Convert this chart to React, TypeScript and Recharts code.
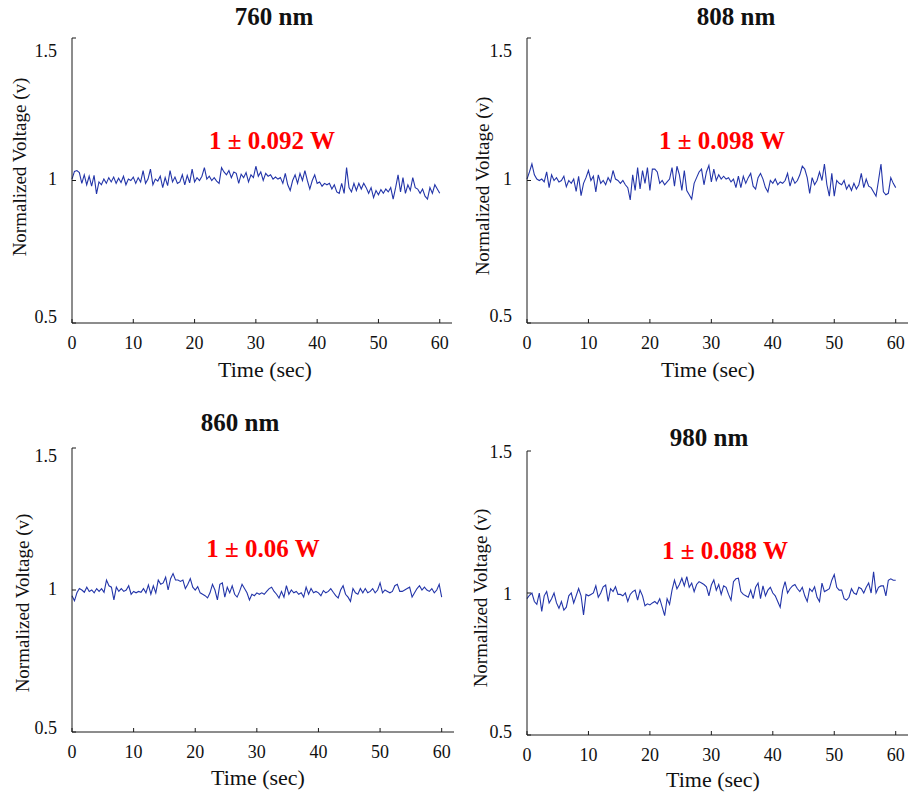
import { LineChart, Line, XAxis, YAxis } from 'recharts'

// sampling interval of the recorder, seconds
const SAMPLE_STEP = 0.4

const xTicks = [0, 10, 20, 30, 40, 50, 60]
const yTicks = [0.5, 1, 1.5]
const titles = ['760 nm', '808 nm', '860 nm', '980 nm']
const powerNotes = ['1 ± 0.092 W', '1 ± 0.098 W', '1 ± 0.06 W', '1 ± 0.088 W']

// normalized voltage (one value every 0.4 s)
const v760 = [
  1.005, 1.032, 1.035, 1.028, 0.99, 1.02, 0.985, 1.015, 0.98, 1.018,
  0.953, 0.995, 0.985, 1.005, 0.99, 1.01, 0.995, 1.012, 0.99, 1.008,
  0.993, 1.015, 0.985, 1.005, 1.0, 1.012, 0.99, 1.01, 0.995, 1.035,
  0.99, 1.005, 1.04, 0.985, 1.005, 0.998, 1.015, 0.975, 1.01, 0.982,
  1.035, 0.995, 1.012, 0.99, 0.995, 1.02, 0.985, 1.018, 0.992, 1.04,
  0.995, 1.01, 1.0, 1.015, 1.045, 1.005, 1.015, 1.0, 1.01, 0.998,
  0.99, 1.045, 1.03, 1.02, 1.035, 1.01, 1.03, 1.025, 0.99, 1.022,
  1.01, 1.028, 0.995, 1.02, 1.01, 1.05, 1.015, 1.03, 1.0, 1.025,
  1.015, 1.02, 1.005, 1.012, 1.005, 1.01, 0.99, 1.025, 0.985, 0.965,
  1.0, 1.02, 0.99, 1.025, 1.0, 1.035, 1.0, 0.97, 1.0, 1.02,
  0.99, 0.995, 0.98, 0.99, 0.985, 0.99, 0.97, 0.985, 0.96, 0.955,
  0.99, 0.955, 1.045, 0.975, 0.96, 0.99, 0.965, 0.99, 0.97, 0.99,
  0.975, 0.955, 0.975, 0.94, 0.965, 0.95, 0.968, 0.955, 0.97, 0.96,
  0.975, 0.935, 0.975, 1.02, 0.96, 1.01, 0.955, 0.985, 0.965, 1.01,
  0.975, 0.97, 0.955, 0.97, 0.945, 0.935, 0.975, 0.955, 0.985, 0.97, 0.955,
]

const v808 = [
  1.005, 1.03, 1.058, 1.02, 1.005, 1.0, 1.005, 0.995, 1.03, 0.975,
  1.02, 1.0, 1.01, 0.995, 1.0, 1.015, 0.978, 1.0, 0.99, 1.005,
  0.962, 1.015, 0.947, 0.99, 1.01, 1.035, 1.0, 1.015, 0.96, 1.02,
  0.99, 1.0, 0.985, 1.01, 0.995, 1.035, 1.005, 1.0, 0.99, 1.0,
  0.985, 0.975, 0.932, 1.02, 0.965, 1.045, 0.97, 1.035, 0.99, 1.045,
  0.965, 1.04, 1.04, 1.03, 0.99, 1.0, 0.985, 0.995, 1.005, 1.045,
  0.98, 1.05, 1.02, 0.965, 1.035, 0.965, 0.95, 0.935, 0.99, 1.01,
  1.03, 1.04, 0.985, 1.03, 1.053, 0.995, 1.04, 1.0, 1.02, 1.005,
  1.015, 1.005, 1.01, 0.995, 1.005, 0.975, 1.015, 0.975, 1.015, 0.99,
  1.01, 1.025, 0.98, 0.97, 1.01, 1.025, 1.005, 0.975, 0.96, 1.0,
  0.99, 1.005, 0.985, 0.995, 0.99, 1.0, 1.025, 0.98, 1.01, 0.99,
  1.0, 1.02, 1.05, 1.04, 1.01, 0.955, 1.01, 0.985, 1.0, 1.03,
  1.0, 1.058, 0.985, 0.945, 1.025, 0.945, 1.0, 0.99, 0.985, 1.0,
  0.97, 0.985, 0.965, 0.99, 0.97, 0.985, 1.025, 0.975, 1.005, 0.98,
  0.975, 0.96, 0.945, 1.0, 1.058, 0.96, 0.95, 0.955, 1.01, 0.99, 0.975,
]

const v860 = [
  0.98, 0.962, 0.99, 1.005, 1.0, 0.992, 1.01, 0.995, 1.0, 0.99,
  1.005, 0.995, 1.005, 0.992, 1.035, 1.015, 1.01, 0.965, 1.01, 0.995,
  1.005, 0.995, 1.0, 1.015, 0.985, 0.995, 0.99, 0.995, 0.992, 1.005,
  0.99, 1.018, 0.985, 1.015, 0.99, 1.035, 1.02, 1.025, 1.045, 1.0,
  1.04, 1.058, 1.035, 1.035, 1.03, 1.035, 1.005, 1.02, 1.04, 1.01,
  1.0, 1.012, 0.99, 0.985, 0.98, 0.972, 0.99, 1.02, 1.0, 0.965,
  1.02, 1.025, 0.975, 1.01, 0.99, 1.015, 0.985, 0.975, 0.995, 1.02,
  1.005, 0.99, 0.965, 0.985, 0.98, 0.99, 0.985, 0.99, 0.985, 0.995,
  1.005, 1.01, 0.995, 0.985, 0.972, 0.995, 0.975, 1.015, 0.985, 1.0,
  0.99, 0.995, 0.985, 0.99, 0.975, 1.01, 0.985, 1.005, 0.99, 0.995,
  0.99, 0.98, 0.998, 0.99, 0.995, 1.005, 0.992, 0.98, 0.972, 1.0,
  1.015, 0.985, 0.975, 0.96, 1.005, 0.99, 0.985, 1.005, 0.99, 1.005,
  0.99, 0.995, 1.005, 0.99, 1.0, 1.025, 0.99, 1.0, 0.995, 0.99,
  0.995, 1.015, 1.02, 0.995, 0.995, 1.0, 1.005, 1.01, 0.975, 0.99,
  1.005, 1.015, 1.0, 1.01, 1.0, 0.995, 1.005, 0.99, 1.0, 1.02, 0.975,
]

const v980 = [
  0.98, 0.992, 1.0, 0.97, 0.96, 1.0, 0.935, 0.99, 1.005, 0.965,
  0.98, 1.0, 0.965, 0.946, 0.97, 0.94, 0.95, 0.99, 1.0, 0.965,
  0.99, 1.016, 0.99, 0.923, 0.995, 0.99, 0.995, 1.0, 1.025, 0.985,
  1.0, 1.022, 1.028, 0.97, 1.015, 1.005, 1.022, 0.995, 0.995, 0.99,
  1.0, 0.97, 0.995, 1.005, 1.01, 0.975, 1.01, 0.99, 0.955, 0.962,
  0.958, 0.965, 0.97, 0.962, 0.98, 0.95, 0.92, 0.98, 0.96, 1.01,
  1.045, 1.015, 1.03, 1.052, 1.025, 1.058, 1.02, 1.035, 1.005, 1.03,
  1.04, 1.035, 1.03, 1.022, 0.99, 1.028, 1.046, 1.01, 1.03, 0.995,
  1.025, 1.02, 0.995, 0.975, 1.04, 1.05, 1.052, 1.005, 0.995, 0.99,
  0.985, 1.01, 0.98, 1.02, 1.035, 0.98, 1.025, 0.99, 1.01, 1.02,
  1.0, 0.99, 0.97, 0.95, 1.01, 1.04, 1.0, 1.015, 1.025, 1.03,
  1.015, 1.005, 1.02, 0.99, 0.97, 1.015, 1.005, 1.022, 0.985, 0.97,
  1.035, 1.005, 1.01, 1.015, 1.045, 1.065, 1.02, 1.01, 1.01, 0.98,
  0.975, 0.985, 1.015, 1.0, 0.995, 1.02, 1.015, 1.0, 1.02, 1.035,
  1.0, 1.075, 1.0, 1.02, 1.025, 1.025, 0.99, 1.045, 1.05, 1.045, 1.045,
]

const series = [v760, v808, v860, v980]

const FONT = '"Liberation Serif", "Times New Roman", Times, serif'
const TRACE = '#2335a9'
const AXIS = '#1a1a1a'

const YW = 60 // room for y tick labels
const XH = 40 // room for x tick labels
const MT = 10
const MR = 2

const toRows = (vals: number[]) =>
  vals.map((v, i) => ({ t: Math.round(i * SAMPLE_STEP * 10) / 10, v }))

type Pt = [number, number]
interface Layout {
  plot: [number, number, number, number] // left, top, right, bottom
  title: Pt
  note: Pt
  xLabel: Pt
  yLabel: Pt
  shift: Record<string, number>
}

const layouts: Layout[] = [
  { plot: [72, 38, 452, 323], title: [274, 16], note: [272, 140], xLabel: [265, 370], yLabel: [19, 167], shift: { '0.5': -6, '1': -2, '1.5': 13 } },
  { plot: [527, 38, 908, 323], title: [736, 16], note: [722, 140], xLabel: [708, 370], yLabel: [482, 186], shift: { '0.5': -7, '1': -2, '1.5': 13 } },
  { plot: [72, 448, 454, 732], title: [240, 422], note: [263, 548], xLabel: [258, 778], yLabel: [22, 603], shift: { '0.5': -4, '1': -1, '1.5': 8 } },
  { plot: [527, 451, 908, 735], title: [709, 437], note: [725, 550], xLabel: [713, 780], yLabel: [480, 598], shift: { '0.5': -3, '1': 1, '1.5': 1 } },
]

function Txt({ at, size, bold, color = '#111', rotate, children }: any) {
  return (
    <div
      style={{
        position: 'absolute',
        left: at[0],
        top: at[1],
        transform: `translate(-50%, -50%)${rotate ? ' rotate(-90deg)' : ''}`,
        fontFamily: FONT,
        fontSize: size,
        fontWeight: bold ? 700 : 400,
        color,
        whiteSpace: 'nowrap',
        lineHeight: 1,
      }}
    >
      {children}
    </div>
  )
}

// MATLAB-style ticks pointing into the plot
const renderXTick = ({ x, y, payload }: any) => (
  <g>
    <line x1={x} y1={y} x2={x} y2={y - 4} stroke={AXIS} />
    <text x={x} y={y + 20} dy="0.35em" textAnchor="middle" fontFamily={FONT} fontSize={18} fill="#111">
      {payload.value}
    </text>
  </g>
)

const makeYTick = (shift: Record<string, number>) => ({ x, y, payload }: any) => (
  <g>
    <line x1={x} y1={y} x2={x + 4} y2={y} stroke={AXIS} />
    <text
      x={x - 15}
      y={y + (shift[String(payload.value)] ?? 0)}
      dy="0.35em"
      textAnchor="end"
      fontFamily={FONT}
      fontSize={18}
      fill="#111"
    >
      {payload.value}
    </text>
  </g>
)

function Panel({ values, layout, title, note }: { values: number[]; layout: Layout; title: string; note: string }) {
  const [l, t, r, b] = layout.plot
  const width = r - l + YW + MR
  const height = b - t + MT + XH
  return (
    <>
      <div style={{ position: 'absolute', left: l - YW, top: t - MT }}>
        <LineChart width={width} height={height} data={toRows(values)} margin={{ top: MT, right: MR, bottom: 0, left: 0 }}>
          <XAxis
            type="number"
            dataKey="t"
            domain={[0, 62]}
            ticks={xTicks}
            interval={0}
            height={XH}
            tickSize={0}
            tickMargin={0}
            tickLine={false}
            axisLine={{ stroke: AXIS }}
            tick={renderXTick}
          />
          <YAxis
            type="number"
            domain={[0.5, 1.5]}
            ticks={yTicks}
            interval={0}
            width={YW}
            tickSize={0}
            tickMargin={0}
            tickLine={false}
            axisLine={{ stroke: AXIS }}
            tick={makeYTick(layout.shift)}
          />
          <Line type="linear" dataKey="v" stroke={TRACE} strokeWidth={1.1} dot={false} isAnimationActive={false} />
        </LineChart>
      </div>
      <Txt at={layout.title} size={25} bold>{title}</Txt>
      <Txt at={layout.note} size={25} bold color="#ff0000">{note}</Txt>
      <Txt at={layout.xLabel} size={22}>Time (sec)</Txt>
      <Txt at={layout.yLabel} size={19} rotate>Normalized Voltage (v)</Txt>
    </>
  )
}

export default function App() {
  return (
    <div style={{ position: 'absolute', left: 0, top: 0, width: 909, height: 795, overflow: 'hidden', background: '#fff' }}>
      {series.map((vals, i) => (
        <Panel key={titles[i]} values={vals} layout={layouts[i]} title={titles[i]} note={powerNotes[i]} />
      ))}
    </div>
  )
}
